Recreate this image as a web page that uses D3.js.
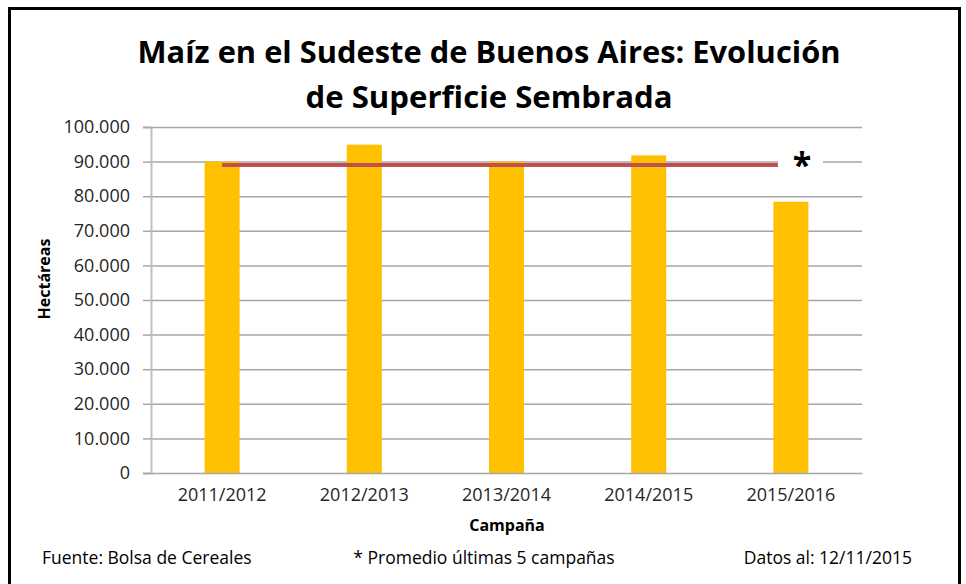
<!DOCTYPE html>
<html><head><meta charset="utf-8">
<script src="https://cdn.jsdelivr.net/npm/d3@7"></script>
<style>body{margin:0;background:#fff}svg{display:block}</style>
</head><body>
<svg id="c" width="966" height="584"></svg>
<script>
const categories = ["2011/2012","2012/2013","2013/2014","2014/2015","2015/2016"];
const superficie = [90000, 94900, 90000, 91800, 78400];
const promedio = [89000, 89000, 89000, 89000, 89000];
const yTicks = [0,10000,20000,30000,40000,50000,60000,70000,80000,90000,100000];
const titleLines = ["Maíz en el Sudeste de Buenos Aires: Evolución","de Superficie Sembrada"];
const footer = ["Fuente: Bolsa de Cereales","* Promedio últimas 5 campañas","Datos al: 12/11/2015"];

const svg = d3.select("#c");
const font = "'Open Sans', sans-serif";
const m = {left:151, right:862, top:127, bottom:473};

// outer border
svg.append("rect").attr("x",9.5).attr("y",8.5).attr("width",950).attr("height",590)
  .attr("fill","#fff").attr("stroke","#000").attr("stroke-width",3);

const x = d3.scaleBand().domain(categories).range([m.left,m.right]).paddingInner(0).paddingOuter(0);
const y = d3.scaleLinear().domain([0,100000]).range([m.bottom,m.top]);
const fmt = d => d3.format(",")(d).replace(/,/g,".");

// gridlines
svg.append("g").selectAll("line").data(yTicks.filter(d=>d>0)).join("line")
  .attr("x1",m.left).attr("x2",m.right).attr("y1",d=>y(d)+0.5).attr("y2",d=>y(d)+0.5)
  .attr("stroke","#a6a6a6").attr("stroke-width",1.5);

// y axis
const ya = svg.append("g").attr("transform",`translate(${m.left},0)`)
  .call(d3.axisLeft(y).tickValues(yTicks).tickFormat(fmt).tickSize(8).tickPadding(13));
ya.select(".domain").attr("stroke","#bfbfbf").attr("stroke-width",2);
ya.selectAll(".tick line").attr("stroke","#a6a6a6").attr("stroke-width",1.5);
ya.selectAll(".tick text").attr("font-family",font).attr("font-size",18).attr("fill","#262626");

// bars
const bw = 35;
svg.append("g").selectAll("rect").data(superficie).join("rect")
  .attr("x",(d,i)=>x(categories[i])+x.bandwidth()/2-bw/2)
  .attr("width",bw)
  .attr("y",d=>y(d)).attr("height",d=>y(0)-y(d))
  .attr("fill","#FFC000");

// x axis
const xa = svg.append("g").attr("transform",`translate(0,${m.bottom})`)
  .call(d3.axisBottom(x).tickSize(0).tickPadding(15));
xa.select(".domain").attr("stroke","#a6a6a6").attr("stroke-width",1.5);
xa.selectAll(".tick text").attr("font-family",font).attr("font-size",18).attr("fill","#262626");

// average line
const line = d3.line().x((d,i)=>x(categories[i])+x.bandwidth()/2).y(d=>y(d));
svg.append("path").datum(promedio).attr("d",line).attr("fill","none")
  .attr("stroke","#C0504D").attr("stroke-width",4);

// asterisk label
const lastX = x(categories[4])+x.bandwidth()/2;
svg.append("rect").attr("x",lastX-13).attr("y",y(promedio[4])-24).attr("width",45).attr("height",30).attr("fill","#fff");
svg.append("text").attr("x",lastX+11).attr("y",y(promedio[4])+12).attr("text-anchor","middle")
  .attr("font-family",font).attr("font-weight","bold").attr("font-size",34).text("*");

// title
svg.append("g").selectAll("text").data(titleLines).join("text")
  .attr("x",489).attr("y",(d,i)=>63+i*45).attr("text-anchor","middle")
  .attr("font-family",font).attr("font-weight","bold").attr("font-size",30).attr("fill","#000")
  .attr("textLength",(d,i)=>i===0?703:367).attr("lengthAdjust","spacingAndGlyphs")
  .text(d=>d);

// axis titles
svg.append("text").attr("transform","translate(50,279) rotate(-90)").attr("text-anchor","middle")
  .attr("font-family",font).attr("font-weight","bold").attr("font-size",16).text("Hectáreas");
svg.append("text").attr("x",507).attr("y",531).attr("text-anchor","middle")
  .attr("font-family",font).attr("font-weight","bold").attr("font-size",16).text("Campaña");

// footer
const fx = [42,484,912];
const anchors = ["start","middle","end"];
svg.append("g").selectAll("text").data(footer).join("text")
  .attr("x",(d,i)=>fx[i]).attr("y",564).attr("text-anchor",(d,i)=>anchors[i])
  .attr("font-family",font).attr("font-size",17.5).attr("fill","#000").text(d=>d);
</script>
</body></html>
